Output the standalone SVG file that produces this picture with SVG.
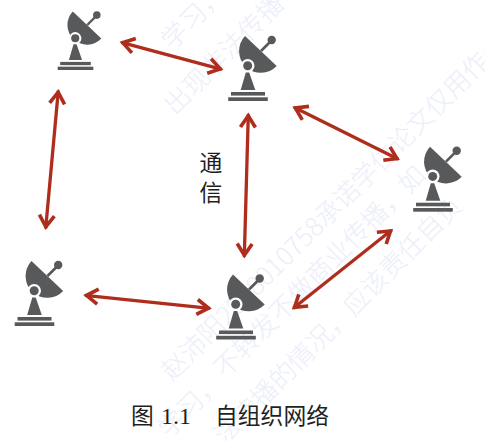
<svg xmlns="http://www.w3.org/2000/svg" width="485" height="441" viewBox="0 0 485 441">
<style>
.wm{font-family:"Noto Sans CJK SC",sans-serif;font-size:26px;font-weight:300;fill:#eceefa}
.lbl{font-family:"Liberation Serif","Noto Sans CJK SC",serif;fill:#1f1f1f;font-size:22.8px}
.dish{fill:#58595b}
.c{fill:none;stroke:#ae2d1c;stroke-width:3.3;marker-start:url(#h);marker-end:url(#h)}
</style>
<defs>
<marker id="h" markerUnits="userSpaceOnUse" markerWidth="30" markerHeight="30" refX="15" refY="15" viewBox="0 0 30 30" orient="auto-start-reverse">
<path d="M2,7.5 L13.5,15 L2,22.5" fill="none" stroke="#ae2d1c" stroke-width="3.6"/>
</marker>
<g id="ant">
<path class="dish" d="M-3,-65 L28.7,-35 A21.8,21.8 0 0 1 -3,-65Z"/>
<path d="M13,-50 L24,-61" stroke="#58595b" stroke-width="2.6" fill="none"/>
<circle class="dish" cx="23.7" cy="-61" r="4.2"/>
<circle cx="-0.3" cy="-35.3" r="6.8" fill="#fff"/>
<circle class="dish" cx="-0.3" cy="-35.3" r="4.5"/>
<path class="dish" d="M-2.2,-28.5 L1.2,-28.5 L7.3,-11 L-7.3,-11Z"/>
<rect class="dish" x="-17" y="-9" width="34" height="3.6"/>
<rect class="dish" x="-19.8" y="-3.7" width="39.6" height="3.7"/>
</g>
</defs>
<rect width="485" height="441" fill="#fff"/>
<g id="watermark">
<text class="wm" transform="translate(172,382) rotate(-45)">赵沛阳2018010758承诺学位论文仅用作个</text>
<text class="wm" transform="translate(225,379) rotate(-45)">不转发不做商业传播，如</text>
<text class="wm" transform="translate(225,446) rotate(-45)">法传播的情况，应该责任自负</text>
<text class="wm" transform="translate(175,116) rotate(-45)">出现非法传播</text>
<text class="wm" transform="translate(172,51) rotate(-45)">学习，</text>
<text class="wm" transform="translate(169,439) rotate(-45)">学习，</text>
</g>
<g id="connectors">
<path class="c" d="M121.3,42.3 L221.7,69.3"/>
<path class="c" d="M58.3,90.7 L45.7,228.3"/>
<path class="c" d="M248.3,114.3 L244.3,256.7"/>
<path class="c" d="M294,107.3 L398.3,159.3"/>
<path class="c" d="M391.7,230 L293.3,308.3"/>
<path class="c" d="M85,295.3 L210,308.3"/>
</g>
<g id="node-1"><use href="#ant" transform="translate(75.5,70) scale(0.9)"/></g>
<g id="node-2"><use href="#ant" transform="translate(248,101)"/></g>
<g id="node-3"><use href="#ant" transform="translate(433,211.7)"/></g>
<g id="node-4"><use href="#ant" transform="translate(236,339.5)"/></g>
<g id="node-5"><use href="#ant" transform="translate(34.5,326)"/></g>
<g id="label-comm">
<text class="lbl" x="211" y="171" text-anchor="middle">通</text>
<text class="lbl" x="211" y="201" text-anchor="middle">信</text>
</g>
<g id="caption">
<text class="lbl" x="131" y="424">图</text>
<text class="lbl" x="161" y="424" font-size="24" style="font-size:24px">1.1</text>
<text class="lbl" x="215" y="424">自组织网络</text>
</g>
</svg>
